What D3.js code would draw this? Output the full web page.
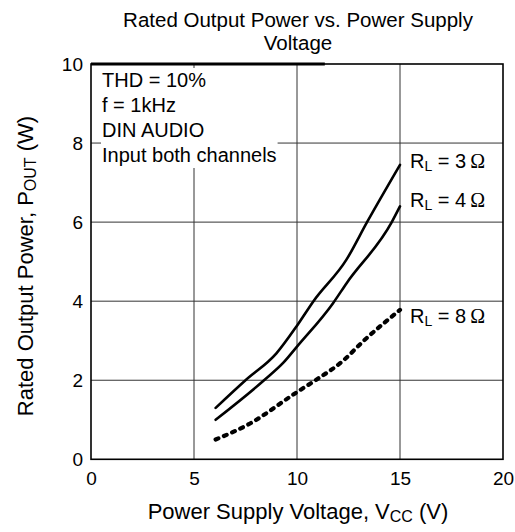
<!DOCTYPE html>
<meta charset="utf-8">
<style>
body { margin: 0; background: #fff; }
svg { font-family: "Liberation Sans", Arial, sans-serif; }
</style>
<svg width="515" height="532"></svg>
<script src="https://d3js.org/d3.v7.min.js"></script>
<script>
// values
var loads = ["3", "4", "8"];
var vcc3 = [6.05, 7.5, 9, 10, 10.8, 12.4, 13.4, 15];
var pout3 = [1.3, 2.0, 2.68, 3.38, 4.0, 5.05, 6.0, 7.45];
var vcc4 = [6.05, 8.4, 9.35, 10, 11.75, 12.4, 14.6, 15];
var pout4 = [1.0, 2.0, 2.45, 2.85, 3.95, 4.45, 6.0, 6.4];
var vcc8 = [6.05, 7.7, 10, 10.9, 12.25, 13.2, 15];
var pout8 = [0.5, 0.9, 1.7, 2.0, 2.5, 2.98, 3.78];
var labelAt = [7.37, 6.38, 3.45];
var xTicks = [0, 5, 10, 15, 20];
var yTicks = [0, 2, 4, 6, 8, 10];
var notes = ["THD = 10%", "f = 1kHz", "DIN AUDIO", "Input both channels"];

var svg = d3.select("svg");
var x = d3.scaleLinear().domain([0, 20]).range([91, 503]);
var y = d3.scaleLinear().domain([0, 10]).range([459.3, 64]);

var series = [
  {load: loads[0], pts: d3.zip(vcc3, pout3), dash: null, lab: labelAt[0]},
  {load: loads[1], pts: d3.zip(vcc4, pout4), dash: null, lab: labelAt[1]},
  {load: loads[2], pts: d3.zip(vcc8, pout8), dash: "3,6", lab: labelAt[2]}
];

// title, two lines
svg.append("g").selectAll("text")
    .data(["Rated Output Power vs. Power Supply", "Voltage"])
  .enter().append("text")
    .attr("x", 298)
    .attr("y", function(d, i) { return 27 + i * 23; })
    .attr("text-anchor", "middle")
    .style("font-size", "20.5px")
    .text(function(d) { return d; });

// grid
svg.append("g").selectAll("line")
    .data([5, 10, 15])
  .enter().append("line")
    .attr("x1", x).attr("x2", x)
    .attr("y1", y(10)).attr("y2", y(0))
    .attr("stroke", "#333").attr("stroke-width", 1);
svg.append("g").selectAll("line")
    .data([2, 4, 6, 8])
  .enter().append("line")
    .attr("x1", x(0)).attr("x2", x(20))
    .attr("y1", y).attr("y2", y)
    .attr("stroke", "#333").attr("stroke-width", 1);

// note box (white behind the text)
var noteBox = svg.append("rect").attr("fill", "#fff");
var note = svg.append("text")
    .style("font-size", "20px");
note.selectAll("tspan")
    .data(notes)
  .enter().append("tspan")
    .attr("x", x(0) + 11)
    .attr("y", function(d, i) { return y(10) + 23 + i * 25; })
    .text(function(d) { return d; });
var bb = note.node().getBBox();
noteBox.attr("x", bb.x - 1).attr("y", y(10) + 4)
    .attr("width", bb.width + 2).attr("height", bb.y + bb.height - y(10) - 2);

// frame
svg.append("rect")
    .attr("x", x(0)).attr("y", y(10))
    .attr("width", x(20) - x(0)).attr("height", y(0) - y(10))
    .attr("fill", "none").attr("stroke", "#000").attr("stroke-width", 1.6);
svg.append("line")
    .attr("x1", x(0)).attr("x2", x(11.35))
    .attr("y1", y(10)).attr("y2", y(10))
    .attr("stroke", "#000").attr("stroke-width", 3);

// axes
svg.append("g")
    .attr("transform", "translate(0," + y(0) + ")")
    .call(d3.axisBottom(x).tickValues(xTicks).tickSize(0).tickPadding(12));
svg.append("g")
    .attr("transform", "translate(" + x(0) + ",0)")
    .call(d3.axisLeft(y).tickValues(yTicks).tickSize(0).tickPadding(8));
svg.selectAll(".domain").remove();
svg.selectAll(".tick text")
    .attr("font-family", null).attr("font-size", null)
    .style("font-size", "19px").attr("fill", "#000");

// axis titles
var xt = svg.append("text")
    .attr("x", 298).attr("y", 519)
    .attr("text-anchor", "middle")
    .style("font-size", "22px");
xt.append("tspan").text("Power Supply Voltage, V");
xt.append("tspan").attr("dy", 3).style("font-size", "16px").text("CC");
xt.append("tspan").attr("dy", -3).text(" (V)");

var yt = svg.append("text")
    .attr("transform", "translate(33,266) rotate(-90)")
    .attr("text-anchor", "middle")
    .style("font-size", "22px");
yt.append("tspan").text("Rated Output Power, P");
yt.append("tspan").attr("dy", 3).style("font-size", "16px").text("OUT");
yt.append("tspan").attr("dy", -3).text(" (W)");

// curves
var line = d3.line()
    .x(function(d) { return x(d[0]); })
    .y(function(d) { return y(d[1]); })
    .curve(d3.curveMonotoneX);

svg.append("g").selectAll("path")
    .data(series)
  .enter().append("path")
    .attr("d", function(d) { return line(d.pts); })
    .attr("fill", "none")
    .attr("stroke", "#000")
    .attr("stroke-width", function(d) { return d.dash ? 4.2 : 2.6; })
    .attr("stroke-linecap", "round")
    .attr("stroke-dasharray", function(d) { return d.dash; });

// load labels
var lab = svg.append("g").selectAll("text")
    .data(series)
  .enter().append("text")
    .attr("x", x(15) + 10)
    .attr("y", function(d) { return y(d.lab); })
    .style("font-size", "20px");
lab.append("tspan").text("R");
lab.append("tspan").attr("dy", 3).style("font-size", "14px").text("L");
lab.append("tspan").attr("dy", -3).text(function(d) { return " = " + d.load + "\u2009"; });
lab.append("tspan").style("font-family", "Liberation Serif").style("font-size", "20px").text("\u03A9");
</script>
